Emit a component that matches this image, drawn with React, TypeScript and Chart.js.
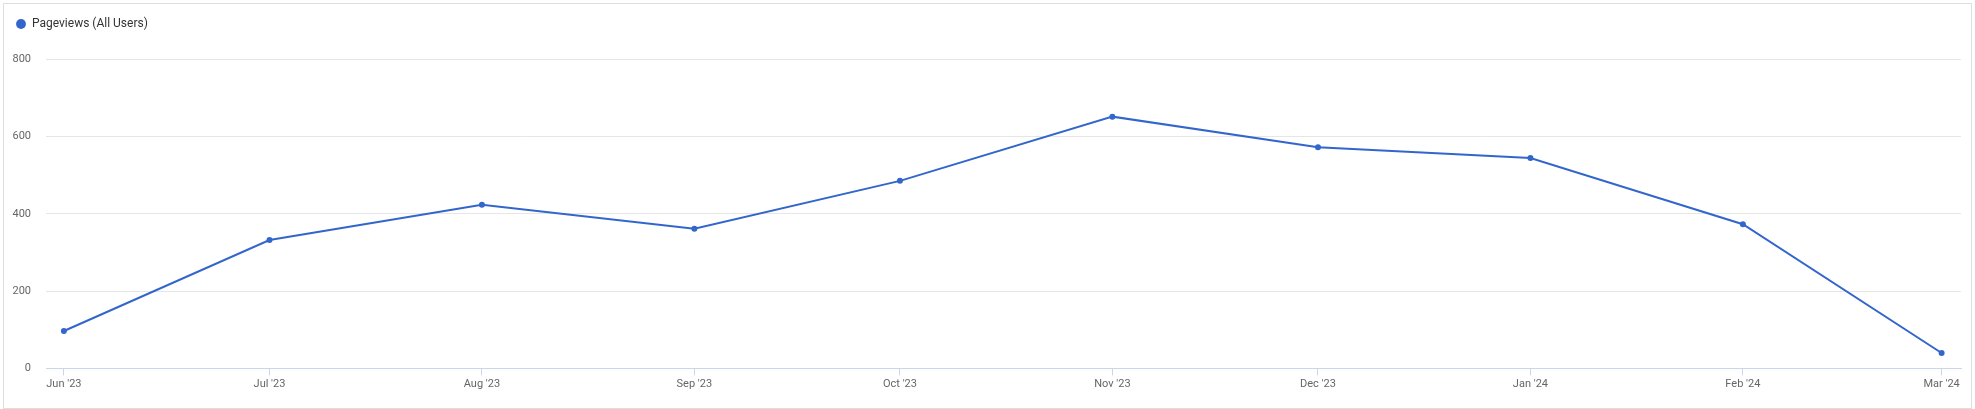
import React, { useEffect, useRef } from 'react';
import { Chart, registerables } from 'chart.js';

Chart.register(...registerables);

// ---- data ----
const monthStarts = [
  '2023-06-01', '2023-07-01', '2023-08-01', '2023-09-01', '2023-10-01',
  '2023-11-01', '2023-12-01', '2024-01-01', '2024-02-01', '2024-03-01',
];
const tickLabels = [
  "Jun '23", "Jul '23", "Aug '23", "Sep '23", "Oct '23",
  "Nov '23", "Dec '23", "Jan '24", "Feb '24", "Mar '24",
];
const pageviews = [97, 332, 423, 361, 485, 651, 572, 544, 373, 40];
const seriesName = 'Pageviews (All Users)';
const yTicks = [0, 200, 400, 600, 800];

const DAY = 86400000;
const origin = Date.parse(monthStarts[0]);
const dayOffsets = monthStarts.map((d) => (Date.parse(d) - origin) / DAY);

const LINE = '#3366cc';

const legendSpacer = {
  id: 'legendSpacer',
  beforeLayout(chart: any) {
    const lg = chart.legend;
    if (lg && !lg.__patched) {
      const orig = lg.fit;
      lg.fit = function () {
        orig.call(this);
        this.height = 51;
      };
      lg.__patched = true;
    }
  },
};

export default function App() {
  const ref = useRef<HTMLCanvasElement | null>(null);

  useEffect(() => {
    if (!ref.current) return;
    Chart.defaults.font.family = 'Roboto';
    const chart = new Chart(ref.current, {
      type: 'line',
      data: {
        datasets: [
          {
            label: seriesName,
            data: dayOffsets.map((x, i) => ({ x, y: pageviews[i] })),
            borderColor: LINE,
            backgroundColor: LINE,
            pointBackgroundColor: LINE,
            pointBorderColor: LINE,
            pointBorderWidth: 0,
            pointRadius: 3,
            borderWidth: 2,
            tension: 0,
          },
        ],
      },
      options: {
        animation: false,
        responsive: false,
        devicePixelRatio: 1,
        layout: { padding: { top: 8, left: 6, right: 14, bottom: 0 } },
        plugins: {
          legend: {
            display: true,
            position: 'top',
            align: 'start',
            labels: {
              usePointStyle: true,
              pointStyle: 'circle',
              boxWidth: 10,
              boxHeight: 7,
              padding: 10,
              color: '#333333',
              font: { size: 12, family: 'Roboto' },
              generateLabels: (c: any) =>
                Chart.defaults.plugins.legend.labels
                  .generateLabels(c)
                  .map((it: any) => ({ ...it, lineWidth: 0, fillStyle: LINE })),
            },
          },
          tooltip: { enabled: false },
        },
        scales: {
          x: {
            type: 'linear',
            min: -2.61,
            max: 276.83,
            afterFit: (s: any) => {
              s.height = 40.5;
            },
            afterBuildTicks: (s: any) => {
              s.ticks = dayOffsets.map((v) => ({ value: v }));
            },
            ticks: {
              autoSkip: false,
              maxRotation: 0,
              padding: 2,
              color: '#666666',
              font: { size: 11, family: 'Roboto' },
              callback: (_v: any, i: number) => tickLabels[i],
            },
            grid: {
              display: true,
              drawOnChartArea: false,
              drawTicks: true,
              tickLength: 7,
              color: '#ccd6eb',
            },
            border: { display: true, color: '#ccd6eb' },
          },
          y: {
            min: 0,
            max: 800,
            afterFit: (s: any) => {
              s.width = 40;
            },
            afterBuildTicks: (s: any) => {
              s.ticks = yTicks.map((v) => ({ value: v }));
            },
            ticks: {
              padding: 15,
              color: '#666666',
              font: { size: 11, family: 'Roboto' },
              callback: (v: any) => String(v),
            },
            grid: { color: '#e6e6e6', drawTicks: false },
            border: { display: false },
          },
        },
      },
      plugins: [legendSpacer],
    } as any);
    return () => chart.destroy();
  }, []);

  return (
    <div style={{ position: 'fixed', left: 0, top: 0, width: 1975, height: 409, background: '#ffffff' }}>
      <div
        style={{
          position: 'absolute',
          left: 3,
          top: 3,
          width: 1967,
          height: 404,
          border: '1px solid #dedede',
        }}
      />
      <canvas ref={ref} width={1975} height={409} style={{ position: 'absolute', left: 0, top: 0 }} />
    </div>
  );
}
